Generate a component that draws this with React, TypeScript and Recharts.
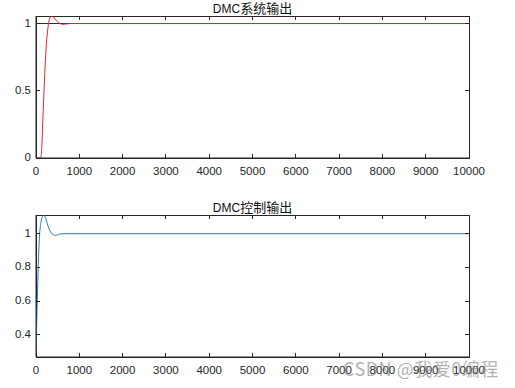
import React from 'react';
import { LineChart, Line, XAxis, YAxis, ReferenceArea } from 'recharts';

// time axis ticks shared by both subplots
const xTicks = [0, 1000, 2000, 3000, 4000, 5000, 6000, 7000, 8000, 9000, 10000];

// subplot 1: system output (red) and setpoint (blue)
const setTime = [0, 10000];
const setValue = [1, 1];
const sysTime = [0, 100, 120, 140, 160, 185, 210, 240, 270, 300, 340, 370, 400, 450, 500, 550, 620, 700, 800, 1000, 10000];
const sysOutput = [0, 0, 0.02, 0.12, 0.3, 0.5, 0.68, 0.85, 0.95, 1.02, 1.05, 1.055, 1.05, 1.03, 1.012, 1.0, 0.994, 0.997, 1.0, 1.0, 1.0];
const sysYTicks = [0, 0.5, 1];

// subplot 2: control output
const ctrlTime = [0, 10, 25, 45, 65, 85, 110, 140, 180, 220, 260, 300, 350, 400, 450, 500, 550, 650, 800, 10000];
const ctrlOutput = [0.268, 0.4, 0.56, 0.75, 0.9, 1.0, 1.06, 1.095, 1.11, 1.095, 1.06, 1.03, 1.005, 0.993, 0.99, 0.993, 0.998, 1.0, 1.0, 1.0];
const ctrlYTicks = [0.4, 0.6, 0.8, 1];

const AXIS = '#262626';
const FONT = '"Liberation Sans", Arial, Helvetica, sans-serif';
const PLOT = { left: 36, right: 469, top: 16, bottom: 158 };

const toRows = (xs: number[], ys: number[]) => xs.map((x, i) => ({ x, y: ys[i] }));

const XTick = (props: any) => {
  const { x, payload } = props;
  return (
    <g>
      <line x1={x} x2={x} y1={PLOT.bottom} y2={PLOT.bottom - 4} stroke={AXIS} shapeRendering="crispEdges" />
      <line x1={x} x2={x} y1={PLOT.top} y2={PLOT.top + 4} stroke={AXIS} shapeRendering="crispEdges" />
      <text x={x} y={PLOT.bottom + 14} textAnchor="middle" dominantBaseline="middle" fill={AXIS} fontSize={11.5} fontFamily={FONT}>
        {payload.value}
      </text>
    </g>
  );
};

const YTick = (props: any) => {
  const { y, payload } = props;
  return (
    <g>
      <line x1={PLOT.left} x2={PLOT.left + 4} y1={y} y2={y} stroke={AXIS} shapeRendering="crispEdges" />
      <line x1={PLOT.right} x2={PLOT.right - 4} y1={y} y2={y} stroke={AXIS} shapeRendering="crispEdges" />
      <text x={PLOT.left - 5} y={y} textAnchor="end" dominantBaseline="middle" fill={AXIS} fontSize={11.5} fontFamily={FONT}>
        {String(payload.value)}
      </text>
    </g>
  );
};

interface SubplotProps {
  title: string;
  top: number;
  yDomain: [number, number];
  yTicks: number[];
  series: { rows: { x: number; y: number }[]; color: string }[];
}

const Subplot: React.FC<SubplotProps> = ({ title, top, yDomain, yTicks, series }) => {
  const titleParts = [title.slice(0, 3), title.slice(3)];
  return (
    <div style={{ position: 'absolute', left: 0, top, width: 515, height: 190 }}>
      <div
        style={{
          position: 'absolute',
          left: PLOT.left,
          width: PLOT.right - PLOT.left,
          top: 0,
          height: 16,
          lineHeight: '16px',
          textAlign: 'center',
          fontFamily: FONT,
          color: '#111',
          fontSize: 12,
        }}
      >
        {titleParts[0]}
        <span style={{ fontSize: 13, fontFamily: '"Noto Sans CJK SC", sans-serif' }}>{titleParts[1]}</span>
      </div>
      <LineChart width={515} height={190} margin={{ top: 16, right: 46, bottom: 0, left: 0 }}>
        <XAxis
          dataKey="x"
          type="number"
          domain={[0, 10000]}
          ticks={xTicks}
          interval={0}
          height={32}
          tickSize={0}
          tickMargin={0}
          tickLine={false}
          tick={<XTick />}
          axisLine={{ stroke: AXIS }}
          allowDataOverflow
        />
        <YAxis
          type="number"
          domain={yDomain}
          ticks={yTicks}
          interval={0}
          width={36}
          tickSize={0}
          tickMargin={0}
          tickLine={false}
          tick={<YTick />}
          axisLine={{ stroke: AXIS }}
          allowDataOverflow
        />
        <ReferenceArea
          x1={0}
          x2={10000}
          y1={yDomain[0]}
          y2={yDomain[1]}
          fill="none"
          fillOpacity={0}
          stroke={AXIS}
          strokeOpacity={1}
          shapeRendering="crispEdges"
        />
        {series.map((s, i) => (
          <Line
            key={i}
            data={s.rows}
            dataKey="y"
            type="monotone"
            stroke={s.color}
            strokeWidth={1}
            dot={false}
            activeDot={false}
            isAnimationActive={false}
          />
        ))}
      </LineChart>
    </div>
  );
};

export default function App() {
  return (
    <div style={{ position: 'fixed', left: 0, top: 0, width: 515, height: 388, background: '#fff', overflow: 'hidden' }}>
      <Subplot
        title="DMC系统输出"
        top={0}
        yDomain={[0, 1.056]}
        yTicks={sysYTicks}
        series={[
          { rows: toRows(setTime, setValue), color: '#1c1c96' },
          { rows: toRows(sysTime, sysOutput), color: '#e8222a' },
        ]}
      />
      <Subplot
        title="DMC控制输出"
        top={199}
        yDomain={[0.268, 1.111]}
        yTicks={ctrlYTicks}
        series={[{ rows: toRows(ctrlTime, ctrlOutput), color: '#2a78b8' }]}
      />
      <div
        style={{
          position: 'absolute',
          left: 343,
          top: 358,
          fontSize: 18,
          letterSpacing: 0.5,
          lineHeight: '20px',
          fontFamily: '"Noto Sans CJK SC", "Liberation Sans", sans-serif',
          color: 'rgba(110,110,110,0.55)',
          whiteSpace: 'nowrap',
        }}
      >
        CSDN @我爱0编程
      </div>
    </div>
  );
}
